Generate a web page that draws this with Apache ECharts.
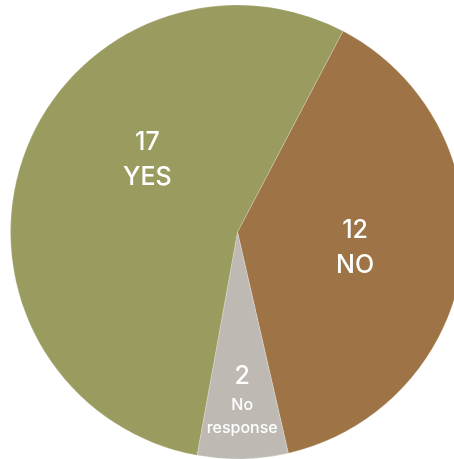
<!DOCTYPE html>
<html><head><meta charset="utf-8">
<script src="https://cdn.jsdelivr.net/npm/echarts@6/dist/echarts.min.js"></script>
<style>html,body{margin:0;padding:0;background:#fff;}#c{width:454px;height:459px;}</style>
</head><body><div id="c"></div>
<script>
const categories = ['NO', 'No response', 'YES'];
const values = [12, 2, 17];
const colors = ['#9e7346', '#bebab3', '#9a9b5f'];
const labelTexts = [['NO'], ['No', 'response'], ['YES']];
const labelOffsets = [[2, 1], [2, 51], [20, -34]];

const chart = echarts.init(document.getElementById('c'), null, {renderer: 'canvas'});
const data = categories.map((c, i) => ({
  name: c,
  value: values[i],
  itemStyle: {color: colors[i]},
  label: {
    offset: labelOffsets[i],
    formatter: () => '{n|' + values[i] + '}\n' + labelTexts[i].map(t => (i === 1 ? '{s|' : '{t|') + t + '}').join('\n')
  }
}));
const ff = 'Inter';
chart.setOption({
  animation: false,
  series: [{
    type: 'pie',
    center: [237.5, 232],
    radius: [0, 227],
    startAngle: 62.3,
    clockwise: true,
    avoidLabelOverlap: false,
    itemStyle: {borderColor: 'rgba(255,255,255,0.35)', borderWidth: 0.6},
    label: {
      show: true,
      position: 'inside',
      color: '#fff',
      fontFamily: ff,
      align: 'center',
      rich: {
        n: {fontSize: 25, fontWeight: 500, lineHeight: 35, color: '#fff', fontFamily: ff, align: 'center'},
        t: {fontSize: 25, fontWeight: 500, lineHeight: 35, color: '#fff', fontFamily: ff, align: 'center'},
        s: {fontSize: 16, fontWeight: 500, lineHeight: 23, color: '#fff', fontFamily: ff, align: 'center'}
      }
    },
    labelLine: {show: false},
    data: data
  }]
});
</script></body></html>
